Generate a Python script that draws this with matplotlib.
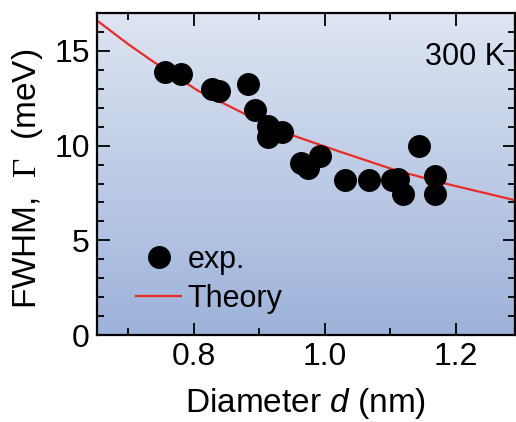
import numpy as np
import matplotlib
matplotlib.use("Agg")
import matplotlib.pyplot as plt
from matplotlib.colors import LinearSegmentedColormap
from matplotlib.ticker import MultipleLocator

plt.rcParams['font.family'] = ['Liberation Sans', 'DejaVu Sans']
plt.rcParams['mathtext.fontset'] = 'custom'
plt.rcParams['mathtext.rm'] = 'Liberation Serif'
plt.rcParams['mathtext.it'] = 'Liberation Sans:italic'

# Measured linewidths
diameter_exp = [0.756, 0.780, 0.828, 0.839, 0.883, 0.894, 0.914, 0.934, 0.914,
                0.964, 0.975, 0.993, 1.031, 1.067, 1.102, 1.112, 1.119, 1.144,
                1.168, 1.168]
fwhm_exp = [13.9, 13.8, 13.0, 12.9, 13.25, 11.9, 11.05, 10.7, 10.45,
            9.1, 8.8, 9.45, 8.2, 8.2, 8.2, 8.25, 7.45, 10.0,
            8.4, 7.45]

# Theoretical curve
diameter_th = [0.650, 0.700, 0.738, 0.807, 0.840, 0.878, 0.952, 1.018,
               1.110, 1.186, 1.291]
fwhm_th = [16.67, 15.36, 14.44, 12.89, 12.33, 11.67, 10.53, 9.74,
           8.68, 7.98, 7.11]

xlim = (0.652, 1.29)
ylim = (0, 17)

fig = plt.figure(figsize=(5.16, 4.22), dpi=100)
ax = fig.add_axes([0.1874, 0.206, 0.8106, 0.763])

# vertical blue gradient background
cmap = LinearSegmentedColormap.from_list("bg", ["#9db2da", "#dee5f2"])
grad = np.linspace(0, 1, 256).reshape(-1, 1)
ax.imshow(grad, cmap=cmap, aspect='auto', origin='lower',
          extent=[xlim[0], xlim[1], ylim[0], ylim[1]], zorder=0)

ax.plot(diameter_th, fwhm_th, color='#ee2a24', lw=1.6, zorder=2, label='Theory')
ax.plot(diameter_exp, fwhm_exp, 'o', color='black', ms=15.5, zorder=3,
        label='exp.', linestyle='none')

ax.set_xlim(*xlim)
ax.set_ylim(*ylim)
ax.xaxis.set_minor_locator(MultipleLocator(0.1))
ax.yaxis.set_major_locator(MultipleLocator(5))
ax.yaxis.set_minor_locator(MultipleLocator(1))
ax.set_xticks([0.8, 1.0, 1.2])
ax.set_xticklabels(['0.8', '1.0', '1.2'])

ax.tick_params(which='both', direction='in', top=True, right=True,
               labelsize=23, width=1.3, pad=5)
ax.tick_params(which='major', length=9)
ax.tick_params(which='minor', length=5)
for s in ax.spines.values():
    s.set_linewidth(1.6)

ax.set_xlabel('Diameter $d$ (nm)', fontsize=24, labelpad=10)
ax.set_ylabel(r'FWHM,  $\Gamma$  (meV)', fontsize=24)
ax.yaxis.set_label_coords(-0.123, 0.484)

ax.text(0.976, 0.865, '300 K', transform=ax.transAxes, ha='right',
        va='center', fontsize=22)

h, l = ax.get_legend_handles_labels()
ax.legend([h[1], h[0]], [l[1], l[0]], loc='lower left', frameon=False,
          fontsize=22, bbox_to_anchor=(0.042, 0.0), handlelength=1.5,
          handletextpad=0.2, labelspacing=0.3, borderaxespad=0.3)

fig.savefig('out.png', dpi=100)
